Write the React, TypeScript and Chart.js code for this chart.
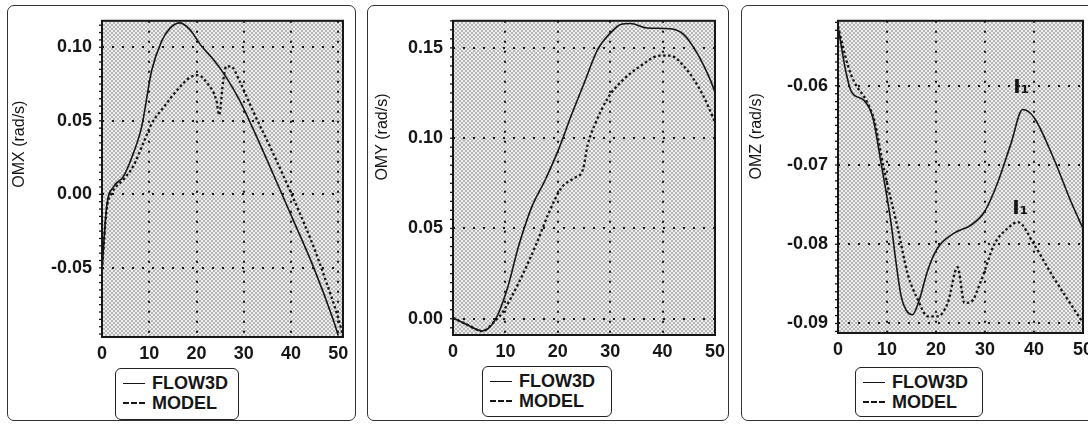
import React, { useEffect, useRef } from "react";
import { Chart, registerables } from "chart.js";

Chart.register(...registerables);

// ---------- data ----------
const seriesNames = ["FLOW3D", "MODEL"];
const xTickValues = [0, 10, 20, 30, 40, 50];

// OMX panel
const omxFlowT = [0, 1.0, 2.4, 4.5, 6.3, 8.4, 10.5, 12.6, 14.4, 16.5, 18.6, 21.0, 23.5, 26.3, 29.1, 31.9, 36.2, 40.4, 44.7, 48.9, 50];
const omxFlowV = [-0.051, -0.008, 0.005, 0.012, 0.025, 0.046, 0.084, 0.104, 0.113, 0.1166, 0.112, 0.101, 0.092, 0.0795, 0.064, 0.045, 0.014, -0.017, -0.049, -0.085, -0.096];
const omxModelT = [0, 1.0, 2.1, 4.5, 6.6, 8.7, 10.5, 13.0, 15.8, 18.6, 20.3, 22.4, 24.2, 24.8, 25.6, 26.3, 27.3, 29.1, 31.9, 36.2, 40.4, 44.7, 47.5, 49.6, 51];
const omxModelV = [-0.051, -0.010, 0.001, 0.010, 0.019, 0.0345, 0.048, 0.059, 0.0705, 0.0795, 0.081, 0.075, 0.064, 0.054, 0.076, 0.087, 0.087, 0.077, 0.057, 0.028, -0.002, -0.035, -0.060, -0.080, -0.096];
const omxTicks = [-0.05, 0, 0.05, 0.1];

// OMY panel
const omyFlowT = [0, 2.5, 5.6, 8.1, 10.3, 12.5, 15, 17.5, 20, 22.6, 25.1, 27.6, 30.1, 32, 33.9, 37, 41.4, 44, 46.5, 49, 50];
const omyFlowV = [0.0005, -0.003, -0.0068, -0.0004, 0.016, 0.040, 0.0617, 0.0763, 0.0927, 0.1128, 0.131, 0.149, 0.1584, 0.163, 0.1635, 0.161, 0.1606, 0.1575, 0.1475, 0.133, 0.1256];
const omyModelT = [0, 2.5, 5.6, 8.1, 9.4, 12.5, 15.7, 18.2, 20.7, 23.2, 24.8, 25.7, 27, 29.5, 32, 35.8, 39.5, 41.4, 44.6, 47.7, 50];
const omyModelV = [0.0005, -0.003, -0.0068, -0.001, 0.0033, 0.0197, 0.040, 0.058, 0.0726, 0.078, 0.0827, 0.0964, 0.107, 0.122, 0.131, 0.140, 0.1457, 0.1457, 0.138, 0.1238, 0.109];
const omyTicks = [0, 0.05, 0.1, 0.15];

// OMZ panel
const omzFlowT = [0, 1.6, 2.7, 5.4, 7.1, 8.8, 10.8, 11.8, 12.9, 13.9, 15.2, 16.6, 18.3, 20.3, 23.7, 27.1, 29.9, 32.6, 35.3, 37.7, 40, 44.1, 47.6, 50];
const omzFlowV = [-0.0525, -0.0582, -0.0607, -0.0619, -0.064, -0.0698, -0.0772, -0.0821, -0.0866, -0.0883, -0.0889, -0.087, -0.0833, -0.0805, -0.0786, -0.0776, -0.0759, -0.0722, -0.0673, -0.063, -0.064, -0.0693, -0.0747, -0.078];
const omzModelT = [0, 2, 3.3, 5.9, 7.4, 9.4, 12.2, 14.2, 16.3, 18.3, 20.3, 22.4, 24.4, 25.8, 27.1, 29.2, 31.9, 34.6, 36.7, 40, 43.5, 46.9, 50];
const omzModelV = [-0.0525, -0.0574, -0.0595, -0.062, -0.0644, -0.0706, -0.078, -0.0837, -0.087, -0.0891, -0.0891, -0.0874, -0.0829, -0.0874, -0.0873, -0.0846, -0.080, -0.078, -0.0772, -0.080, -0.0837, -0.087, -0.0899];
const omzTicks = [-0.09, -0.08, -0.07, -0.06];
const omzNotes = [
  { x: 37.4, y: -0.0603, text: "I\u2081" },
  { x: 37.2, y: -0.0755, text: "I\u2081" },
];

// ---------- helpers ----------
const INK = "#161616";
const FONT = '"Liberation Sans", Arial, sans-serif';

function makePattern(ctx: CanvasRenderingContext2D) {
  const c = document.createElement("canvas");
  c.width = 4;
  c.height = 4;
  const p = c.getContext("2d")!;
  p.fillStyle = "#eeeeee";
  p.fillRect(0, 0, 4, 4);
  p.fillStyle = "#b6b6b6";
  p.fillRect(0, 0, 2, 2);
  p.fillRect(2, 2, 2, 2);
  return ctx.createPattern(c, "repeat");
}

const panelDecor = {
  id: "panelDecor",
  beforeDraw(chart: any) {
    const { ctx, chartArea: ca } = chart;
    ctx.save();
    ctx.fillStyle = makePattern(ctx) || "#d0d0d0";
    ctx.fillRect(ca.left, ca.top, ca.right - ca.left, ca.bottom - ca.top);
    ctx.restore();
  },
  afterDraw(chart: any, _a: any, opts: any) {
    const { ctx, chartArea: ca } = chart;
    const ys = chart.scales.y;
    ctx.save();
    // frame
    ctx.strokeStyle = INK;
    ctx.lineWidth = 2;
    ctx.setLineDash([]);
    ctx.strokeRect(ca.left, ca.top, ca.right - ca.left, ca.bottom - ca.top);
    // minor ticks on left edge
    const step = opts.minorStep;
    ctx.lineWidth = 1.3;
    const start = Math.ceil(ys.min / step);
    const end = Math.floor(ys.max / step);
    for (let i = start; i <= end; i++) {
      const py = ys.getPixelForValue(i * step);
      ctx.beginPath();
      ctx.moveTo(ca.left - 3, py);
      ctx.lineTo(ca.left, py);
      ctx.stroke();
    }
    // y title
    ctx.fillStyle = INK;
    ctx.font = `16px ${FONT}`;
    ctx.textAlign = "center";
    ctx.textBaseline = "middle";
    ctx.translate(opts.titleX, ca.top + (ca.bottom - ca.top) * opts.titleFrac);
    ctx.rotate(-Math.PI / 2);
    ctx.fillText(opts.title, 0, 0);
    ctx.setTransform(1, 0, 0, 1, 0, 0);
    // notes
    if (opts.notes) {
      ctx.font = `bold 20px "DejaVu Sans", sans-serif`;
      ctx.textAlign = "center";
      ctx.textBaseline = "middle";
      for (const n of opts.notes) {
        ctx.fillText(n.text, chart.scales.x.getPixelForValue(n.x), ys.getPixelForValue(n.y));
      }
    }
    ctx.restore();
  },
};

type PanelSpec = {
  flowT: number[];
  flowV: number[];
  modelT: number[];
  modelV: number[];
  yTicks: number[];
  yMin: number;
  yMax: number;
  xMax: number;
  title: string;
  left: number;
  width: number;
  plotLeft: number;
  plotRight: number;
  plotTop: number;
  plotBottom: number;
  titleX: number;
  titleFrac: number;
  notes?: { x: number; y: number; text: string }[];
  legend: { left: number; top: number; width: number; height: number };
};

function fmt(v: number) {
  if (Math.abs(v) < 1e-9) return "0.00";
  return v.toFixed(2);
}

function Panel({ spec }: { spec: PanelSpec }) {
  const ref = useRef<HTMLCanvasElement | null>(null);
  useEffect(() => {
    const canvas = ref.current!;
    const H = 425;
    const xHeight = 30;
    const tickFont = { family: FONT, size: 18, weight: "bold" as const };
    const chart = new Chart(canvas, {
      type: "line",
      data: {
        datasets: [
          {
            label: seriesNames[0],
            data: spec.flowT.map((t, i) => ({ x: t, y: spec.flowV[i] })),
            borderColor: INK,
            borderWidth: 1.6,
            pointRadius: 0,
            fill: false,
            cubicInterpolationMode: "monotone",
          },
          {
            label: seriesNames[1],
            data: spec.modelT.map((t, i) => ({ x: t, y: spec.modelV[i] })),
            borderColor: INK,
            borderWidth: 2.3,
            borderDash: [2.5, 2.5],
            pointRadius: 0,
            fill: false,
            cubicInterpolationMode: "monotone",
          },
        ],
      },
      options: {
        animation: false,
        responsive: false,
        maintainAspectRatio: false,
        layout: {
          padding: {
            left: 0,
            top: spec.plotTop,
            right: spec.width - spec.plotRight,
            bottom: H - spec.plotBottom - xHeight,
          },
        },
        plugins: {
          legend: { display: false },
          tooltip: { enabled: false },
          panelDecor: {
            minorStep: (spec.yTicks[1] - spec.yTicks[0]) / 10,
            title: spec.title,
            titleX: spec.titleX,
            titleFrac: spec.titleFrac,
            notes: spec.notes,
          },
        } as any,
        scales: {
          x: {
            type: "linear",
            min: 0,
            max: spec.xMax,
            afterBuildTicks: (s: any) => {
              s.ticks = xTickValues.map((v) => ({ value: v }));
            },
            afterFit: (s: any) => {
              s.height = xHeight;
            },
            ticks: {
              font: tickFont,
              color: INK,
              padding: 6,
              maxRotation: 0,
              autoSkip: false,
              callback: (v: any) => String(v),
            },
            grid: { color: INK, lineWidth: 2, drawTicks: false },
            border: { display: false, dash: [2, 8] },
          },
          y: {
            type: "linear",
            min: spec.yMin,
            max: spec.yMax,
            afterBuildTicks: (s: any) => {
              s.ticks = spec.yTicks.map((v) => ({ value: v }));
            },
            afterFit: (s: any) => {
              s.width = spec.plotLeft;
            },
            ticks: {
              font: tickFont,
              color: INK,
              padding: 10,
              autoSkip: false,
              callback: (v: any) => fmt(Number(v)),
            },
            grid: { color: INK, lineWidth: 2, drawTicks: false },
            border: { display: false, dash: [2, 8] },
          },
        },
      },
      plugins: [panelDecor as any],
    });
    return () => chart.destroy();
  }, [spec]);

  const lg = spec.legend;
  const row = (dashed: boolean, text: string) => (
    <div style={{ display: "flex", alignItems: "center", height: 20 }}>
      <div
        style={{
          width: 22,
          marginLeft: 7,
          marginRight: 7,
          borderTop: dashed ? "2px dashed #161616" : "1.6px solid #161616",
        }}
      />
      <span style={{ font: `bold 18px ${FONT}`, color: INK, lineHeight: "20px" }}>{text}</span>
    </div>
  );

  return (
    <>
      <div
        style={{
          position: "absolute",
          left: spec.left,
          top: 5,
          width: spec.width - 2,
          height: 416,
          border: "1.5px solid #333",
          borderRadius: 7,
          boxSizing: "border-box",
        }}
      />
      <canvas
        ref={ref}
        width={spec.width}
        height={425}
        style={{ position: "absolute", left: spec.left, top: 0, width: spec.width, height: 425 }}
      />
      <div
        style={{
          position: "absolute",
          left: lg.left,
          top: lg.top,
          width: lg.width,
          height: lg.height,
          border: "1.5px solid #222",
          borderRadius: 6,
          boxSizing: "border-box",
          paddingTop: 4,
          background: "#fff",
        }}
      >
        {row(false, seriesNames[0])}
        {row(true, seriesNames[1])}
      </div>
    </>
  );
}

const panels: PanelSpec[] = [
  {
    flowT: omxFlowT, flowV: omxFlowV, modelT: omxModelT, modelV: omxModelV,
    yTicks: omxTicks, yMin: -0.097, yMax: 0.118, xMax: 51,
    title: "OMX (rad/s)",
    left: 7, width: 351, plotLeft: 95, plotRight: 336, plotTop: 20, plotBottom: 337,
    titleX: 13, titleFrac: 0.39,
    legend: { left: 115, top: 368, width: 124, height: 52 },
  },
  {
    flowT: omyFlowT, flowV: omyFlowV, modelT: omyModelT, modelV: omyModelV,
    yTicks: omyTicks, yMin: -0.009, yMax: 0.165, xMax: 50,
    title: "OMY (rad/s)",
    left: 367, width: 364, plotLeft: 86, plotRight: 350, plotTop: 18, plotBottom: 335,
    titleX: 16, titleFrac: 0.37,
    legend: { left: 482, top: 366, width: 130, height: 51 },
  },
  {
    flowT: omzFlowT, flowV: omzFlowV, modelT: omzModelT, modelV: omzModelV,
    yTicks: omzTicks, yMin: -0.0912, yMax: -0.0518, xMax: 50,
    title: "OMZ (rad/s)",
    left: 741, width: 362, plotLeft: 97, plotRight: 342, plotTop: 15, plotBottom: 333,
    titleX: 16, titleFrac: 0.37,
    notes: omzNotes,
    legend: { left: 855, top: 367, width: 128, height: 50 },
  },
];

export default function App() {
  return (
    <div
      style={{
        position: "absolute",
        left: 0,
        top: 0,
        width: 1088,
        height: 425,
        overflow: "hidden",
        background: "#fff",
      }}
    >
      {panels.map((p, i) => (
        <Panel key={i} spec={p} />
      ))}
    </div>
  );
}
